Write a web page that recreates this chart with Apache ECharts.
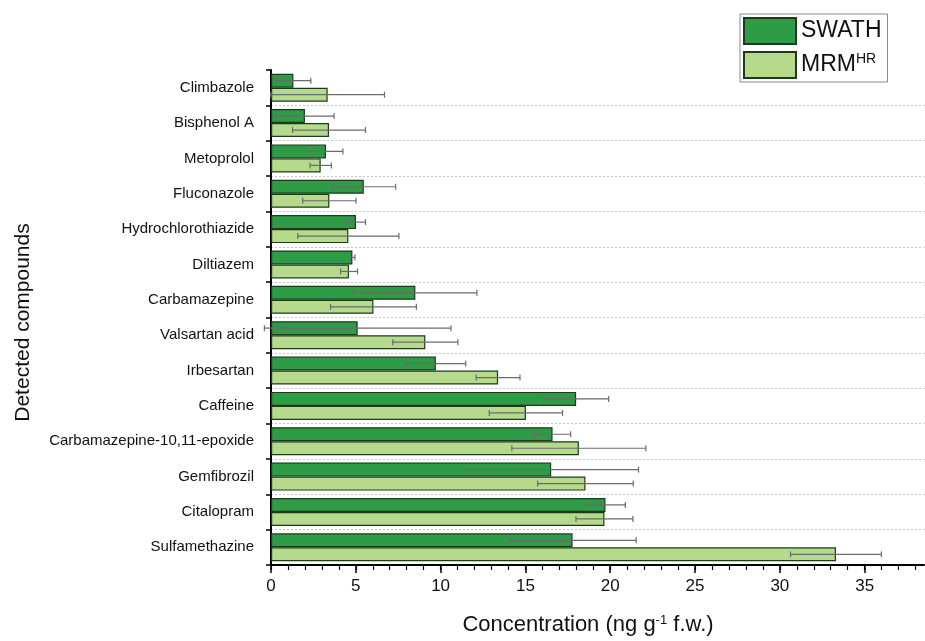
<!DOCTYPE html>
<html>
<head>
<meta charset="utf-8">
<script src="https://cdn.jsdelivr.net/npm/echarts@6/dist/echarts.min.js"></script>
<style>
html,body{margin:0;padding:0;background:#fff;}
#chart{width:925px;height:641px;}
</style>
</head>
<body>
<div id="chart"></div>
<script>
// ---- data ----
const categories = ['Climbazole','Bisphenol A','Metoprolol','Fluconazole','Hydrochlorothiazide','Diltiazem','Carbamazepine','Valsartan acid','Irbesartan','Caffeine','Carbamazepine-10,11-epoxide','Gemfibrozil','Citalopram','Sulfamethazine'];
const swathMean = [1.32, 2.00, 3.24, 5.47, 5.01, 4.80, 8.51, 5.11, 9.72, 17.99, 16.60, 16.52, 19.72, 17.78];
const swathSd   = [1.03, 1.72, 1.00, 1.88, 0.56, 0.15, 3.63, 5.50, 1.76, 1.92, 1.07, 5.15, 1.17, 3.75];
const mrmMean   = [3.34, 3.42, 2.93, 3.44, 4.56, 4.60, 6.04, 9.10, 13.39, 15.03, 18.15, 18.54, 19.66, 33.31];
const mrmSd     = [3.35, 2.15, 0.63, 1.57, 2.98, 0.50, 2.53, 1.92, 1.29, 2.16, 3.95, 2.82, 1.68, 2.68];
const xMajorTicks = [0, 5, 10, 15, 20, 25, 30, 35];
const xMinorTicks = [0,1,2,3,4,5,6,7,8,9,10,11,12,13,14,15,16,17,18,19,20,21,22,23,24,25,26,27,28,29,30,31,32,33,34,35,36,37,38];

// ---- style ----
const FONT = 'Liberation Sans, Arial, sans-serif';
const BAR_W = 14;
const DARK = '#2e9b46';
const LIGHT = '#b5da8c';
const EDGE = '#1d3a1d';
const ERR = '#6b6b6b';

function errorRender(sign) {
  return function (params, api) {
    const i = api.value(0), m = api.value(1), s = api.value(2);
    const lo = api.coord([m - s, i]);
    const hi = api.coord([m + s, i]);
    const y = lo[1] + sign * BAR_W / 2;
    const cap = 3;
    const st = { stroke: ERR, lineWidth: 1.2 };
    return {
      type: 'group',
      children: [
        { type: 'line', shape: { x1: lo[0], y1: y, x2: hi[0], y2: y }, style: st },
        { type: 'line', shape: { x1: lo[0], y1: y - cap, x2: lo[0], y2: y + cap }, style: st },
        { type: 'line', shape: { x1: hi[0], y1: y - cap, x2: hi[0], y2: y + cap }, style: st }
      ]
    };
  };
}

const chart = echarts.init(document.getElementById('chart'), null, { renderer: 'canvas' });
const option = {
  animation: false,
  backgroundColor: '#fff',
  textStyle: { fontFamily: FONT },
  grid: { left: 271, right: 1, top: 70, bottom: 66, containLabel: false },
  legend: {
    data: ['SWATH', 'MRMHR'],
    orient: 'vertical',
    left: 740, top: 14,
    icon: 'rect',
    itemWidth: 52, itemHeight: 26, itemGap: 6,
    padding: [3, 6, 3, 3],
    borderColor: '#8a8a8a', borderWidth: 1,
    selectedMode: false,
    formatter: function (n) { return n === 'MRMHR' ? 'MRM{sup|HR}' : n; },
    textStyle: {
      fontFamily: FONT, fontSize: 23, color: '#111', lineHeight: 26,
      rich: { sup: { fontFamily: FONT, fontSize: 14, color: '#111', lineHeight: 26, verticalAlign: 'top', padding: [0, 0, 8, 0] } }
    }
  },
  xAxis: [
    {
      type: 'value', min: 0, max: 38.5,
      position: 'bottom',
      axisLine: { show: true, onZero: false, lineStyle: { color: '#000', width: 2 } },
      axisTick: { show: true, customValues: xMajorTicks, length: 8, lineStyle: { color: '#000', width: 1.5 } },
      axisLabel: { customValues: xMajorTicks, fontSize: 17, color: '#111', margin: 13, fontFamily: FONT },
      splitLine: { show: false },
      name: 'Concentration (ng g{sup|-1} f.w.)',
      nameLocation: 'middle', nameGap: 49,
      nameTextStyle: {
        fontFamily: FONT, fontSize: 22, color: '#111', padding: [0, 19, 0, 0],
        rich: { sup: { fontFamily: FONT, fontSize: 13, color: '#111', verticalAlign: 'top', padding: [0, 0, 8, 0] } }
      }
    },
    {
      type: 'value', min: 0, max: 38.5,
      position: 'bottom',
      axisLine: { show: false, onZero: false },
      axisTick: { show: true, customValues: xMinorTicks, length: 5, lineStyle: { color: '#000', width: 1.2 } },
      axisLabel: { show: false },
      splitLine: { show: false }
    }
  ],
  yAxis: {
    type: 'category', data: categories, inverse: true,
    axisLine: { show: true, lineStyle: { color: '#000', width: 2 } },
    axisTick: { show: true, length: 5, lineStyle: { color: '#000', width: 1.5 } },
    axisLabel: { fontSize: 15, color: '#111', margin: 17, fontFamily: FONT },
    splitLine: {
      show: true,
      interval: function (idx) { return idx > 0; },
      lineStyle: { color: '#c4c4c4', type: [2, 2], width: 1 }
    },
    name: 'Detected compounds', nameLocation: 'middle', nameGap: 237,
    nameTextStyle: { fontFamily: FONT, fontSize: 21, color: '#111', padding: [0, 10, 0, 0] }
  },
  series: [
    {
      name: 'SWATH', type: 'bar', data: swathMean, barWidth: BAR_W, barGap: '0%',
      itemStyle: { color: DARK, borderColor: EDGE, borderWidth: 1.2 }
    },
    {
      name: 'MRMHR', type: 'bar', data: mrmMean, barWidth: BAR_W, barGap: '0%',
      itemStyle: { color: LIGHT, borderColor: EDGE, borderWidth: 1.2 }
    },
    {
      name: 'SWATH SD', type: 'custom', z: 5, clip: false,
      data: categories.map(function (c, i) { return [i, swathMean[i], swathSd[i]]; }),
      encode: { y: 0, x: 1 },
      renderItem: errorRender(-1)
    },
    {
      name: 'MRM SD', type: 'custom', z: 5, clip: false,
      data: categories.map(function (c, i) { return [i, mrmMean[i], mrmSd[i]]; }),
      encode: { y: 0, x: 1 },
      renderItem: errorRender(1)
    }
  ]
};
chart.setOption(option);
</script>
</body>
</html>
